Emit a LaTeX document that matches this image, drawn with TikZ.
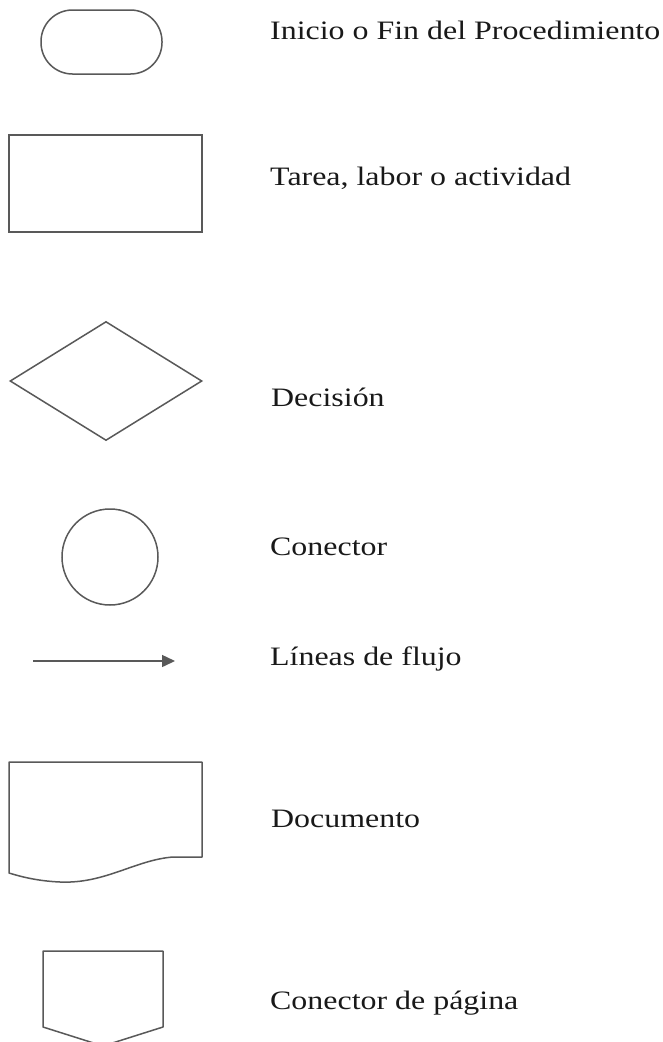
\documentclass[tikz,border=0pt]{standalone}
\usepackage{fontspec}
\setmainfont{Liberation Serif}[FakeStretch=1.2]
\usetikzlibrary{shapes.geometric,arrows.meta}

\tikzset{
    simbolo/.style={draw=black!65, line width=1.5pt, inner sep=0pt},
    texto/.style={anchor=base west, inner sep=0pt, text=black!90,
        font=\fontsize{26.6}{30}\selectfont}
}

\begin{document}
\begin{tikzpicture}[x=1pt, y=-1pt]
        \useasboundingbox[fill=white] (0,0) rectangle (663,1042);
        \clip (0,0) rectangle (663,1042);

        % ~~~~ Simbolos ~~~~%
        \node[simbolo, rounded corners=31.5pt, minimum width=121pt, minimum height=64pt]
            (inicio) at (101.5,42) {};
        \node[simbolo, minimum width=193pt, minimum height=97pt] (tarea) at (105.5,183.5) {};
        \node[simbolo, diamond, minimum width=192pt, minimum height=119pt] (decision) at (106,381) {};
        \node[simbolo, circle, minimum size=96pt] (conector) at (110,557) {};

        \coordinate (flujoA) at (33,661);
        \coordinate (flujoB) at (175,661);
        \draw[draw=black!65, line width=1.5pt, -{Triangle[length=13pt, width=12pt]}] (flujoA) -- (flujoB);

        \draw[simbolo, line join=round] (9,762) -- (202,762) -- (202,857) -- (173,857)
            .. controls (135,860) and (105,884) .. (60,882)
            .. controls (38,881) and (22,877) .. (9,873) -- cycle;
        \draw[simbolo, line join=round] (43,951) -- (163,951) -- (163,1027) -- (103,1046)
            -- (43,1027) -- cycle;

        % ~~~~ Textos ~~~~%
        \node[texto] (tInicio) at (270,39) {Inicio o Fin del Procedimiento};
        \node[texto] (tTarea) at (270,185) {Tarea, labor o actividad};
        \node[texto] (tDecision) at (271,406) {Decisión};
        \node[texto] (tConector) at (270,555) {Conector};
        \node[texto] (tFlujo) at (270,665) {Líneas de flujo};
        \node[texto] (tDocumento) at (271,827) {Documento};
        \node[texto] (tPagina) at (270,1009) {Conector de página};
\end{tikzpicture}
\end{document}
